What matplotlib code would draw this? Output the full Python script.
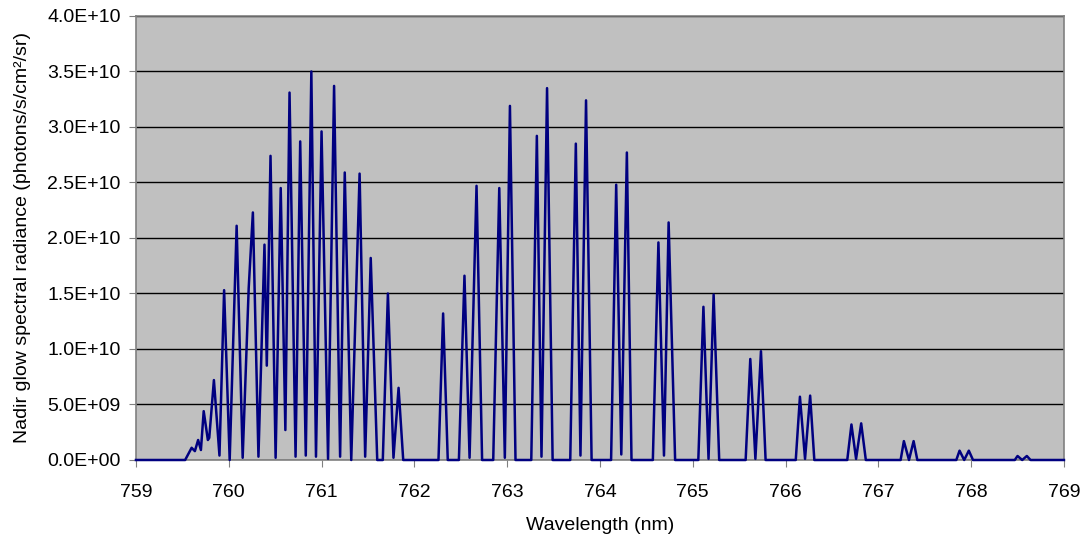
import matplotlib.pyplot as plt
from matplotlib.ticker import FuncFormatter, MultipleLocator

plt.rcParams['font.family'] = ['Liberation Sans', 'DejaVu Sans']

# polyline vertices (wavelength nm, radiance in 1E10 units)
wavelength = [
    759.0, 759.53, 759.60, 759.635, 759.67, 759.70, 759.73, 759.775, 759.79, 759.84,
    759.90, 759.95, 760.01, 760.085, 760.15, 760.215, 760.26, 760.32, 760.385, 760.41,
    760.45, 760.505, 760.56, 760.61, 760.655, 760.72, 760.77, 760.83, 760.89, 760.94,
    761.00, 761.07, 761.135, 761.20, 761.25, 761.32, 761.41, 761.47, 761.53, 761.60,
    761.66, 761.715, 761.775, 761.83, 761.88,
    762.26, 762.31, 762.36,
    762.48, 762.54, 762.595, 762.67, 762.73,
    762.85, 762.915, 762.975, 763.03, 763.09,
    763.26, 763.32, 763.37, 763.43, 763.49,
    763.68, 763.74, 763.79, 763.85, 763.91,
    764.12, 764.175, 764.23, 764.29, 764.34,
    764.57, 764.63, 764.69, 764.74, 764.81,
    765.06, 765.115, 765.17, 765.225, 765.285,
    765.57, 765.62, 765.675, 765.735, 765.785,
    766.11, 766.155, 766.21, 766.265, 766.31,
    766.665, 766.71, 766.76, 766.815, 766.865,
    767.24, 767.275, 767.33, 767.38, 767.42,
    767.84, 767.875, 767.925, 767.975, 768.02,
    768.47, 768.50, 768.55, 768.60, 768.64,
    769.0,
]
radiance = [
    0.0, 0.0, 0.11, 0.08, 0.18, 0.09, 0.44, 0.18, 0.20, 0.72,
    0.04, 1.53, 0.0, 2.11, 0.02, 1.55, 2.23, 0.03, 1.94, 0.85,
    2.74, 0.02, 2.45, 0.27, 3.31, 0.03, 2.87, 0.04, 3.50, 0.03,
    2.96, 0.01, 3.37, 0.03, 2.59, 0.0, 2.58, 0.03, 1.82, 0.0,
    0.0, 1.50, 0.02, 0.65, 0.0,
    0.0, 1.32, 0.0,
    0.0, 1.66, 0.02, 2.47, 0.0,
    0.0, 2.45, 0.02, 3.19, 0.0,
    0.0, 2.92, 0.03, 3.35, 0.0,
    0.0, 2.85, 0.04, 3.24, 0.0,
    0.0, 2.48, 0.05, 2.77, 0.0,
    0.0, 1.96, 0.04, 2.14, 0.0,
    0.0, 1.38, 0.01, 1.49, 0.0,
    0.0, 0.91, 0.01, 0.98, 0.0,
    0.0, 0.57, 0.01, 0.58, 0.0,
    0.0, 0.32, 0.01, 0.33, 0.0,
    0.0, 0.17, 0.0, 0.17, 0.0,
    0.0, 0.084, 0.0, 0.084, 0.0,
    0.0, 0.036, 0.0, 0.036, 0.0,
    0.0,
]

fig = plt.figure(figsize=(10.85, 5.42), dpi=100)
ax = fig.add_axes([0.1253, 0.1513, 0.8553, 0.8192])
ax.set_facecolor('#C0C0C0')

ax.plot(wavelength, [r * 1e10 for r in radiance], color='#000080',
        linewidth=1.8, zorder=4, clip_on=False)

ax.set_xlim(759, 769)
ax.set_ylim(0, 4e10)
ax.xaxis.set_major_locator(MultipleLocator(1))
ax.yaxis.set_major_locator(MultipleLocator(5e9))
ax.yaxis.set_major_formatter(FuncFormatter(lambda v, p: f'{v:.1E}'))
ax.grid(axis='y', color='black', linewidth=1)
ax.set_axisbelow(True)

for s in ax.spines.values():
    s.set_color('#808080')
    s.set_linewidth(1.2)
ax.tick_params(direction='out', length=5, color='#808080', labelsize=14,
               labelcolor='black')
ax.tick_params(axis='x', pad=12)
ax.tick_params(axis='y', pad=6)

ax.set_xlabel('Wavelength (nm)', fontsize=14, labelpad=12)
ax.set_ylabel('Nadir glow spectral radiance (photons/s/cm²/sr)', fontsize=14, labelpad=12)

plt.savefig('out.png', dpi=100)
